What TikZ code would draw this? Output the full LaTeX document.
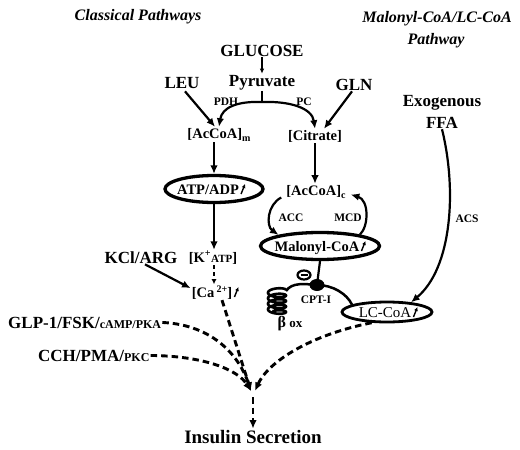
\documentclass[tikz,border=0pt]{standalone}
\usepackage{fontspec}
\setmainfont{Liberation Serif}
\usetikzlibrary{arrows.meta,shapes.geometric,calc}
\begin{document}
\begin{tikzpicture}[x=1pt,y=-1pt,
  txt/.style={inner sep=1pt, anchor=base},
  big/.style={txt, font=\fontsize{17}{19}\selectfont\bfseries},
  mid/.style={txt, font=\fontsize{14.5}{16}\selectfont\bfseries},
  sml/.style={txt, font=\fontsize{11.5}{13}\selectfont\bfseries},
  ttl/.style={txt, font=\fontsize{16}{19}\selectfont\bfseries\itshape},
  oval/.style={ellipse, draw, line width=3.3pt, inner sep=0},
  arr/.style={line width=2.2pt, -{Latex[length=8.5pt,width=7.5pt]}},
  darr/.style={line width=2.9pt, dash pattern=on 6.5pt off 4pt, -{Latex[length=8.5pt,width=7.5pt]}},
  uparr/.style={line width=1.4pt, -{Latex[length=4pt,width=4pt]}},
]
\fill[white] (0,0) rectangle (520,450);
\useasboundingbox (0,0) rectangle (520,450);

% titles
\node[ttl] (t1) at (138,20) {Classical Pathways};
\node[ttl] (t2) at (437,22) {Malonyl-CoA/LC-CoA};
\node[ttl] (t3) at (436,44) {Pathway};

% left / centre column
\node[big] (glu) at (262,56) {GLUCOSE};
\node[big] (pyr) at (262,86) {Pyruvate};
\node[big] (leu) at (182,88) {LEU};
\node[big] (gln) at (354,90) {GLN};
\node[sml] (pdh) at (226,105) {PDH};
\node[sml] (pc) at (304,105) {PC};
\node[mid] (acm) at (219,138) {[AcCoA]\raisebox{-3pt}{\fontsize{10}{10}\selectfont m}};
\node[mid] (cit) at (315,140) {[Citrate]};

\node[oval, minimum width=98pt, minimum height=27pt] (atp) at (214,189) {};
\node[mid] (atpt) at (208,194) {ATP/ADP};

\node[mid] (katp) at (213,262) {[K\textsuperscript{+}{\fontsize{11}{12}\selectfont ATP}]};
\node[big] (kcl) at (141,263) {KCl/ARG};
\node[mid] (ca) at (212,297) {[Ca\,\raisebox{5pt}{\fontsize{10}{10}\selectfont 2+}]};

\node[big, anchor=base west] (glp) at (7,328) {GLP-1/FSK/{\fontsize{12}{12}\selectfont cAMP/PKA}};
\node[big, anchor=base west] (cch) at (37,361) {CCH/PMA/{\fontsize{12}{12}\selectfont PKC}};
\node[txt, font=\fontsize{19}{22}\selectfont\bfseries] (ins) at (253,443) {Insulin Secretion};

% right column
\node[mid] (accc) at (316,195) {[AcCoA]\raisebox{-3pt}{\fontsize{10}{10}\selectfont c}};
\node[sml] (acc) at (291,221) {ACC};
\node[sml] (mcd) at (348,221) {MCD};
\node[oval, minimum width=119pt, minimum height=27pt] (mal) at (320,246) {};
\node[mid] (malt) at (317,251) {Malonyl-CoA};
\node[ellipse, fill, minimum width=15pt, minimum height=12pt, inner sep=0] (dot) at (317,285) {};
\node[ellipse, draw, line width=2.2pt, minimum width=13pt, minimum height=9pt, inner sep=0] (inh) at (304,275) {};
\draw[line width=1.6pt] ($(inh.center)+(-3.5,0)$) -- ($(inh.center)+(3.5,0)$);
\node[sml] (cpt) at (316,303) {CPT-I};
\node[txt, font=\fontsize{13}{15}\selectfont\bfseries] (box) at (290,327) {{\fontsize{16}{16}\selectfont β} ox};
\node[oval, line width=2.8pt, minimum width=90pt, minimum height=20pt] (lcc) at (387,312) {};
\node[txt, font=\fontsize{15}{17}\selectfont] (lcct) at (385,317) {LC-CoA};
\node[big] (exo) at (442,106) {Exogenous};
\node[big] (ffa) at (442,128) {FFA};
\node[sml] (acs) at (467,222) {ACS};

% small rising arrows
\draw[uparr] ($(atpt.base east)+(1,0)$) -- ++(4,-10);
\draw[uparr] ($(malt.base east)+(1,0)$) -- ++(4,-10);
\draw[uparr] ($(ca.base east)+(1,0)$) -- ++(4,-10);
\draw[uparr] ($(lcct.base east)+(1,0)$) -- ++(4,-10);

% connectors, classical pathway
\draw[line width=1.5pt, -{Latex[length=5pt,width=4.5pt]}] (glu.south) -- (pyr.north);
\coordinate (j) at (262,102);
\draw[line width=2.2pt] (pyr.south) -- (j);
\draw[arr] (j) .. controls (236,101) and (222,108) .. (acm.north);
\draw[arr] (j) .. controls (290,101) and (312,108) .. (cit.north);
\draw[arr] ($(leu.south)+(3,2)$) -- ($(acm.north)+(-4,0)$);
\draw[arr] ($(gln.south)+(-2,0)$) -- ($(cit.north)+(9,0)$);
\draw[arr] (acm.south -| atp) -- (atp.north);
\draw[arr] (atp.south) -- (katp.north -| atp);
\draw[line width=1.8pt, dash pattern=on 4pt off 3pt, -{Latex[length=5pt,width=5pt]}] (katp.south -| atp) -- (ca.north -| atp);
\draw[arr] ($(kcl.south)+(4,0)$) -- ([yshift=4pt]ca.west);

% converging dashed paths
\coordinate (conv) at (251,391);
\coordinate (conv2) at (255,391);
\coordinate (low) at (253,397);
\draw[darr] ($(ca.south)+(10,0)$) -- (conv);
\draw[darr] (glp.east) .. controls (215,325) and (240,358) .. (conv);
\draw[darr] (cch.east) .. controls (205,356) and (238,370) .. (conv);
\draw[darr] (lcc.215) .. controls (310,335) and (268,362) .. (conv2);
\draw[darr] (low) -- (ins.north);

% malonyl-CoA pathway
\draw[arr] (cit.south) -- (cit.south |- accc.north);
\draw[arr] ($(accc.west)+(-4,6)$) .. controls (267,205) and (266,226) .. (mal.165);
\draw[arr] (mal.16) .. controls (369,226) and (369,200) .. ($(accc.east)+(4,3)$);
\draw[line width=2.2pt] (mal.south) -- (dot.center);
\coordinate (coiltop) at (286,291);
\draw[line width=2.5pt] (coiltop) .. controls (292,282) and (305,284) .. (dot.center)
  .. controls (333,285) and (347,294) .. (lcc.168);
\draw[line width=2.6pt] plot[domain=0:1560, samples=220, smooth]
  ({277+9*cos(\x)}, {290+5.5*\x/360-3*sin(\x)});
\draw[arr] (ffa.south) .. controls (457,190) and (452,268) .. (lcc.22);
\end{tikzpicture}
\end{document}
